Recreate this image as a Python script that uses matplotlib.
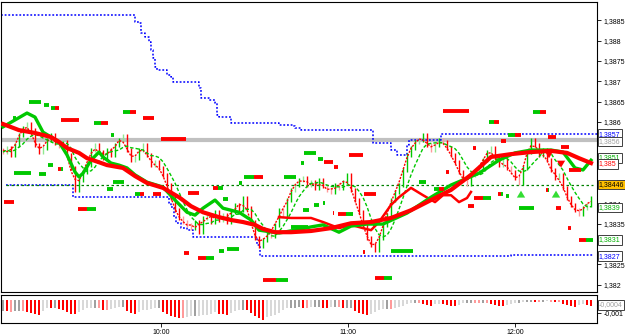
import matplotlib.pyplot as plt
from matplotlib.transforms import blended_transform_factory
import numpy as np
import pandas as pd

plt.rcParams['font.family'] = ['Liberation Sans', 'DejaVu Sans']

# closing prices, one per bar
close = [1.38526, 1.38536, 1.38519, 1.38543, 1.38568, 1.38585, 1.38595, 1.38580, 1.38543, 1.38526,
         1.38536, 1.38556, 1.38568, 1.38548, 1.38541, 1.38551, 1.38519, 1.38487, 1.38433, 1.38457,
         1.38477, 1.38494, 1.38531, 1.38543, 1.38526, 1.38511, 1.38531, 1.38519, 1.38543, 1.38556,
         1.38565, 1.38531, 1.38506, 1.38511, 1.38531, 1.38543, 1.38519, 1.38494, 1.38501, 1.38487,
         1.38470, 1.38445, 1.38413, 1.38383, 1.38364, 1.38354, 1.38347, 1.38339, 1.38354, 1.38329,
         1.38364, 1.38371, 1.38354, 1.38378, 1.38359, 1.38371, 1.38354, 1.38378, 1.38396, 1.38383,
         1.38413, 1.38388, 1.38354, 1.38315, 1.38295, 1.38310, 1.38329, 1.38319, 1.38347, 1.38383,
         1.38371, 1.38408, 1.38433, 1.38445, 1.38457, 1.38462, 1.38445, 1.38452, 1.38438, 1.38457,
         1.38442, 1.38433, 1.38428, 1.38445, 1.38438, 1.38452, 1.38470, 1.38433, 1.38408, 1.38378,
         1.38347, 1.38315, 1.38297, 1.38285, 1.38315, 1.38347, 1.38371, 1.38408, 1.38428, 1.38445,
         1.38482, 1.38519, 1.38536, 1.38551, 1.38556, 1.38568, 1.38543, 1.38531, 1.38543, 1.38556,
         1.38551, 1.38536, 1.38519, 1.38501, 1.38477, 1.38457, 1.38447, 1.38470, 1.38477, 1.38487,
         1.38506, 1.38526, 1.38536, 1.38511, 1.38494, 1.38506, 1.38487, 1.38477, 1.38462, 1.38450,
         1.38487, 1.38526, 1.38556, 1.38543, 1.38519, 1.38531, 1.38506, 1.38482, 1.38462, 1.38470,
         1.38438, 1.38413, 1.38396, 1.38383, 1.38374, 1.38388, 1.38396, 1.38413]

# lower histogram
hist = [-0.00085, -0.00088, -0.00090, -0.00088, -0.00086, -0.00088, -0.00092, -0.00100, -0.00108, -0.00112,
        -0.00085, -0.00062, -0.00066, -0.00064, -0.00068, -0.00080, -0.00095, -0.00105, -0.00108, -0.00090,
        -0.00075, -0.00066, -0.00062, -0.00060, -0.00062, -0.00075, -0.00077, -0.00070, -0.00062, -0.00055,
        -0.00055, -0.00085, -0.00100, -0.00108, -0.00095, -0.00080, -0.00075, -0.00068, -0.00062, -0.00060,
        -0.00090, -0.00110, -0.00122, -0.00130, -0.00136, -0.00138, -0.00130, -0.00125, -0.00123, -0.00120,
        -0.00116, -0.00112, -0.00108, -0.00095, -0.00105, -0.00110, -0.00115, -0.00100, -0.00082, -0.00077,
        -0.00077, -0.00080, -0.00100, -0.00125, -0.00140, -0.00150, -0.00130, -0.00120, -0.00115, -0.00100,
        -0.00075, -0.00065, -0.00062, -0.00060, -0.00058, -0.00062, -0.00064, -0.00058, -0.00055, -0.00055,
        -0.00060, -0.00064, -0.00058, -0.00055, -0.00058, -0.00062, -0.00060, -0.00060, -0.00085, -0.00100,
        -0.00110, -0.00115, -0.00105, -0.00090, -0.00075, -0.00070, -0.00068, -0.00070, -0.00065, -0.00055,
        -0.00045, -0.00030, -0.00025, -0.00022, -0.00025, -0.00030, -0.00040, -0.00045, -0.00035, -0.00030,
        -0.00035, -0.00042, -0.00046, -0.00050, -0.00040, -0.00028, -0.00025, -0.00024, -0.00025, -0.00027,
        -0.00025, -0.00028, -0.00035, -0.00040, -0.00045, -0.00050, -0.00040, -0.00030, -0.00025, -0.00022,
        -0.00018, -0.00016, -0.00015, -0.00018, -0.00020, -0.00017, -0.00012, -0.00015, -0.00018, -0.00020,
        -0.00030, -0.00042, -0.00048, -0.00052, -0.00040, -0.00035, -0.00040, -0.00045]

# slow red average
slow_x = [0, 4, 8, 12, 14, 16, 19, 21, 24, 26, 30, 33, 36, 40, 44, 47, 50, 54, 57, 60,
          63, 65, 68, 72, 77, 82, 87, 92, 97, 102, 107, 112, 117, 122, 127, 132, 137, 141, 144, 147]
slow_y = [1.38595, 1.38580, 1.38573, 1.38563, 1.38551, 1.38536, 1.38524, 1.38511, 1.38501, 1.38494,
          1.38487, 1.38467, 1.38450, 1.38438, 1.38415, 1.38393, 1.38378, 1.38366, 1.38359, 1.38354,
          1.38347, 1.38337, 1.38329, 1.38329, 1.38332, 1.38339, 1.38351, 1.38354, 1.38364, 1.38383,
          1.38408, 1.38433, 1.38470, 1.38514, 1.38521, 1.38526, 1.38529, 1.38524, 1.38511, 1.38499]

# green average
mid_x = [0, 3, 6, 8, 10, 14, 16, 18, 19, 20, 22, 24, 25, 27, 29, 31, 33, 36, 40, 43,
         46, 48, 50, 53, 55, 59, 62, 64, 69, 73, 77, 80, 84, 87, 91, 95, 101, 107, 112, 119,
         124, 128, 132, 137, 140, 143, 145, 147]
mid_y = [1.38588, 1.38605, 1.38622, 1.38612, 1.38575, 1.38551, 1.38519, 1.38477, 1.38465, 1.38474,
         1.38506, 1.38526, 1.38514, 1.38499, 1.38494, 1.38487, 1.38470, 1.38452, 1.38440, 1.38408,
         1.38378, 1.38371, 1.38388, 1.38408, 1.38388, 1.38378, 1.38359, 1.38334, 1.38327, 1.38334,
         1.38342, 1.38347, 1.38329, 1.38344, 1.38349, 1.38349, 1.38376, 1.38415, 1.38445, 1.38474,
         1.38506, 1.38524, 1.38531, 1.38531, 1.38526, 1.38487, 1.38482, 1.38506]

# red wavy average (second half)
wave_x = [69, 72, 77, 80, 84, 87, 90, 92, 94, 97, 99, 102, 105, 108, 110, 112, 114, 116, 117]
wave_y = [1.38366, 1.38364, 1.38364, 1.38354, 1.38339, 1.38347, 1.38339, 1.38334, 1.38354, 1.38396,
          1.38415, 1.38438, 1.38420, 1.38403, 1.38420, 1.38420, 1.38403, 1.38413, 1.38428]

# blue channel steps
upper_x = [-0.5, 33, 34, 34.5, 35.5, 36.5, 37, 37.5, 38, 38.5, 41, 42, 42.5, 49, 49.5, 51.5, 53, 53.5, 54,
           57, 69, 72.5, 73, 74.5, 92.5, 97, 98.5, 101, 101.5, 109.5, 148.5]
upper_y = [1.38863, 1.38846, 1.38843, 1.38819, 1.38809, 1.38797, 1.38777, 1.38757, 1.38735, 1.38728,
           1.38716, 1.38711, 1.38698, 1.38684, 1.38659, 1.38654, 1.38647, 1.38617, 1.38612, 1.38597,
           1.38592, 1.38590, 1.38585, 1.38580, 1.38548, 1.38531, 1.38519, 1.38543, 1.38556, 1.38570, 1.38570]
lower_x = [0.75, 17.5, 41.5, 42, 42.75, 43.25, 44.5, 46, 47.5, 63.5, 64.25, 127, 147.5]
lower_y = [1.38445, 1.38415, 1.38401, 1.38391, 1.38366, 1.38351, 1.38339, 1.38334, 1.38317, 1.38297,
           1.38270, 1.38273, 1.38273]

grey_level = 1.38556
pivot_level = 1.38446

# short level marks: start, end, price, colours
lvl_x0 = [6.5, 10.25, 12, 14.5, 22.75, 30, 35, 27, 2.75, 9, 11.25, 13.75, 0.25, 27.5, 26, 33, 37.5, 18.75,
          39.5, 46.25, 52.5, 55, 60.25, 70.25, 59, 75.25, 74.5, 75, 72, 56, 54, 45.25, 48.75, 65, 93,
          86.5, 80.25, 78.75, 82.75, 90.25, 77.75, 80, 82.5, 83.75, 90, 97, 104, 107.75, 110.75, 110,
          121.5, 132.5, 139.5, 136.25, 126.25, 124.5, 117.5, 141.5, 123.75, 125.75, 117.75, 116.25, 129,
          135.75, 138.25, 141.25, 144, 2.5]
lvl_x1 = [9.5, 11.5, 14, 19, 26.25, 33.25, 37.75, 27.75, 7, 10.75, 12.5, 15, 2.75, 30.25, 27.5, 35.25, 39.5, 23.25,
          45.75, 49, 55, 56.25, 65, 73.25, 59.75, 78.25, 75.25, 76.5, 76.25, 59, 55.25, 46.5, 52.75, 71.25, 97.25,
          90, 82.5, 80, 83.75, 93.25, 79, 80.5, 82.75, 87.5, 90.5, 102.5, 105.75, 110.25, 111.5, 116.5,
          124, 135.75, 141.5, 138.25, 129.5, 125.75, 118.25, 144.5, 125, 126.5, 122, 117.75, 132.75,
          136.5, 139.5, 142, 147.5, 3.25]
lvl_p = [1.38649, 1.38642, 1.38634, 1.38605, 1.38597, 1.38624, 1.38610, 1.38568, 1.38474, 1.38472,
         1.38494, 1.38484, 1.38403, 1.38452, 1.38435, 1.38423, 1.38423, 1.38386, 1.38558, 1.38425,
         1.38438, 1.38410, 1.38465, 1.38465, 1.38450, 1.38524, 1.38499, 1.38383, 1.38342, 1.38287,
         1.38283, 1.38278, 1.38265, 1.38211, 1.38216, 1.38519, 1.38501, 1.38509, 1.38489, 1.38423,
         1.38396, 1.38401, 1.38376, 1.38374, 1.38280, 1.38283, 1.38452, 1.38435, 1.38477, 1.38627,
         1.38600, 1.38624, 1.38538, 1.38563, 1.38568, 1.38553, 1.38536, 1.38482, 1.38423, 1.38418,
         1.38413, 1.38393, 1.38388, 1.38433, 1.38388, 1.38339, 1.38310, 1.38610]
lvl_kind = ['g', 'g', 'gr', 'r', 'gr', 'gr', 'r', 'g', 'g', 'g', 'g', 'rg', 'r', 'g', 'g', 'gr', 'r', 'rg',
            'r', 'r', 'rg', 'g', 'gr', 'g', 'g', 'g', 'g', 'g', 'g', 'g', 'g', 'r', 'rg', 'rg', 'rg',
            'r', 'r', 'g', 'r', 'r', 'g', 'g', 'r', 'rg', 'r', 'g', 'g', 'gr', 'r', 'r',
            'gr', 'gr', 'r', 'r', 'gr', 'r', 'r', 'r', 'rg', 'g', 'rg', 'r', 'g',
            'rg', 'r', 'r', 'rg', 'g']

up_x = [129.5, 138.25]
up_p = [1.38424, 1.38424]
down_x = [136.5, 139.5]
down_p = [1.38518, 1.38495]

price_ticks = [1.382, 1.3825, 1.383, 1.3835, 1.384, 1.3845, 1.385, 1.3855, 1.386, 1.3865,
               1.387, 1.3875, 1.388, 1.3885]
# labels hidden behind the value boxes on the right
hidden_ticks = [1.383, 1.3845, 1.385, 1.3855]
markers = [("1,3857", 1.38570, "#0000ff", "white"), ("1,3856", 1.38552, "#a0a0a0", "white"),
           ("1,3851", 1.38512, "#00b000", "white"), ("1,385", 1.38497, "#ff0000", "white"),
           ("1,38446", 1.38446, "black", "#ffc000"), ("1,3839", 1.38390, "#00b000", "white"),
           ("1,3831", 1.38310, "#00b000", "white"), ("1,3827", 1.38270, "#0000ff", "white")]

time_pos = [39.5, 86.25, 128]
time_lab = ["10:00", "11:00", "12:00"]

GREEN = "#00c800"
RED = "#ff0000"
colmap = {"g": GREEN, "r": RED}
FS = 5.0

fig = plt.figure(figsize=(6.25, 3.36), dpi=100)
ax = fig.add_axes([0.0016, 0.131, 0.9536, 0.863])
ax2 = fig.add_axes([0.0016, 0.0387, 0.9536, 0.0833])

n = len(close)
idx = np.arange(n)
c = np.array(close)
o = np.r_[c[0] + 0.00005, c[:-1]]

# blue channel, levels
ax.step(upper_x, upper_y, where="post", color="#0000ff", lw=1.1, ls=(0, (1.2, 1.2)), zorder=2)
ax.step(lower_x, lower_y, where="post", color="#0000ff", lw=1.1, ls=(0, (1.2, 1.2)), zorder=2)
ax.axhline(grey_level, color="#c0c0c0", lw=3.0, zorder=1)
ax.hlines(pivot_level, 0.75, 147.5, color="#008000", lw=0.9, ls=(0, (2, 2)), zorder=2)

# bars
pad = 0.00005
for i in range(n):
    col = GREEN if c[i] >= o[i] else RED
    if abs(c[i] - o[i]) < 0.00012:
        col = "#90e890" if col == GREEN else "#ff9a9a"
    ax.vlines(i, min(o[i], c[i]) - pad, max(o[i], c[i]) + pad, color=col, lw=1.0, zorder=3)

# averages
s = pd.Series(close)
fast = s.rolling(3, center=True, min_periods=1).mean()
lag = s.rolling(6, min_periods=1).mean()
ax.plot(idx, fast, color=RED, lw=1.0, ls=(0, (1.5, 1)), zorder=4)
ax.plot(idx, lag, color=GREEN, lw=1.0, ls=(0, (2.5, 1.5)), zorder=4)
ax.plot(wave_x, wave_y, color=RED, lw=1.8, zorder=5)
ax.plot(mid_x, mid_y, color=GREEN, lw=2.4, zorder=5)
ax.plot(slow_x, slow_y, color=RED, lw=3.0, zorder=6)

# level marks
for x0, x1, p, k in zip(lvl_x0, lvl_x1, lvl_p, lvl_kind):
    if len(k) == 1:
        ax.hlines(p, x0, x1, color=colmap[k], lw=2.8, capstyle="butt", zorder=7)
    else:
        m = (x0 + x1) / 2
        ax.hlines(p, x0, m, color=colmap[k[0]], lw=2.8, capstyle="butt", zorder=7)
        ax.hlines(p, m, x1, color=colmap[k[1]], lw=2.8, capstyle="butt", zorder=7)

for x, p in zip(up_x, up_p):
    ax.annotate("", xy=(x, p + 0.00014), xytext=(x, p - 0.00006),
                arrowprops=dict(arrowstyle="simple,head_width=0.6,head_length=0.5,tail_width=0.3",
                                color="#33dd33", lw=0), zorder=8)
for x, p in zip(down_x, down_p):
    ax.annotate("", xy=(x, p - 0.00014), xytext=(x, p + 0.00006),
                arrowprops=dict(arrowstyle="simple,head_width=0.6,head_length=0.5,tail_width=0.3",
                                color=RED, lw=0), zorder=8)

ax.set_xlim(-0.5, 148.5)
ax.set_ylim(1.38182, 1.38895)
ax.set_xticks([])
ax.yaxis.tick_right()
ax.set_yticks(price_ticks)
ax.set_yticklabels(["" if v in hidden_ticks else f"{v:.4f}".rstrip("0").replace(".", ",")
                    for v in price_ticks])
ax.tick_params(axis="y", labelsize=FS, length=3, width=0.6, pad=1.5)
for sp in ax.spines.values():
    sp.set_linewidth(0.8)

tr = blended_transform_factory(ax.transAxes, ax.transData)
for txt, p, tc, bg in markers:
    ax.text(1.003, p, txt, transform=tr, fontsize=FS, color=tc, va="center", ha="left", zorder=10,
            bbox=dict(boxstyle="square,pad=0.18", fc=bg, ec="#404040", lw=0.7), clip_on=False)

# histogram
h = np.array(hist)
hcol = []
for i in range(n):
    d = h[i] - (h[i - 1] if i > 0 else h[i])
    if d < -0.00003:
        hcol.append(RED)
    elif d < 0:
        hcol.append("#ff9a9a")
    elif d < 0.00003:
        hcol.append("#a0a0a0")
    else:
        hcol.append("#d8d8d8")
ax2.bar(idx, h, width=0.4, color=hcol, zorder=2)
ax2.set_xlim(-0.5, 148.5)
ax2.set_ylim(-0.00175, 0.00035)
ax2.yaxis.tick_right()
ax2.set_yticks([-0.001])
ax2.set_yticklabels(["-0,001"])
ax2.set_xticks(time_pos)
ax2.set_xticklabels(time_lab)
ax2.tick_params(labelsize=FS, length=3, width=0.6, pad=1.5)
for sp in ax2.spines.values():
    sp.set_linewidth(0.8)
tr2 = blended_transform_factory(ax2.transAxes, ax2.transData)
ax2.text(1.003, -0.0004, "-0,0004", transform=tr2, fontsize=FS, color="#a0a0a0", va="center",
         ha="left", bbox=dict(boxstyle="square,pad=0.18", fc="white", ec="#404040", lw=0.7),
         clip_on=False, zorder=10)

fig.savefig("out.png", dpi=100)
